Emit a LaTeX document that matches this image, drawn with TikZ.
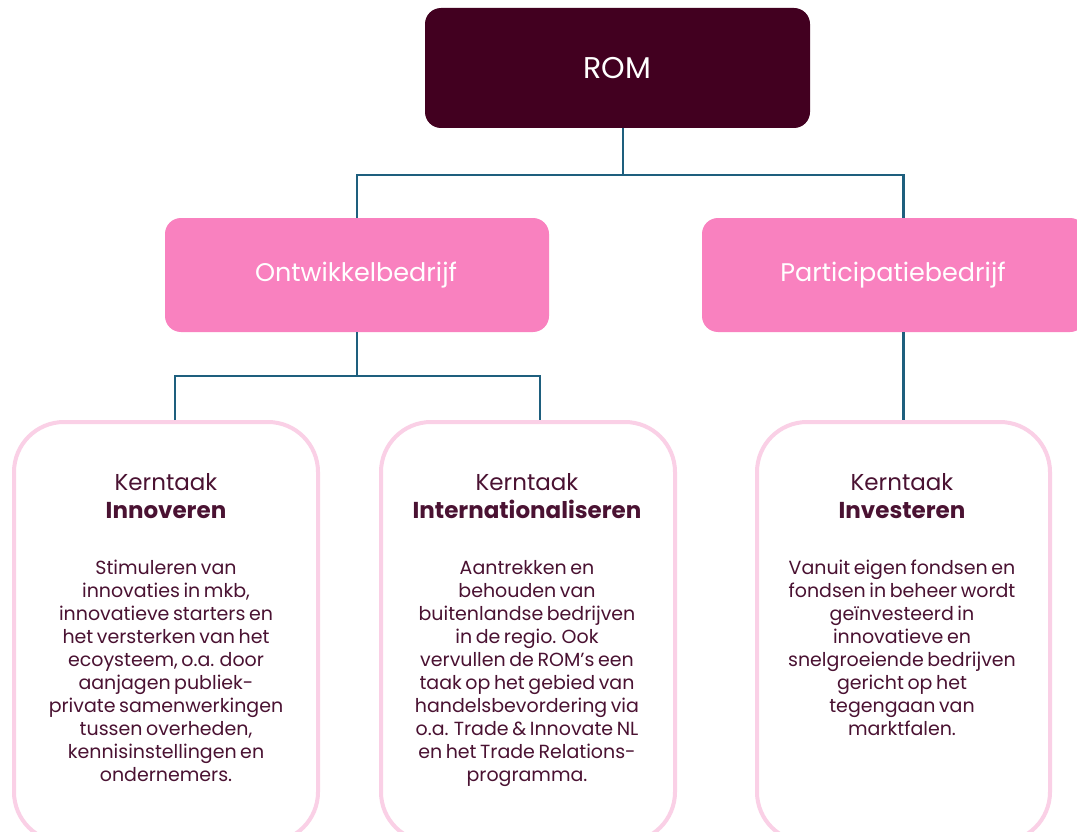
\documentclass[tikz,border=0pt]{standalone}
\usepackage{fontspec}
\setmainfont{Poppins}[WordSpace=0.7]
\definecolor{romfill}{HTML}{420020}
\definecolor{pinkfill}{HTML}{F981BF}
\definecolor{cardline}{HTML}{FAD0E6}
\definecolor{conncol}{HTML}{1E5F7E}
\definecolor{txtcol}{HTML}{4A1232}
\begin{document}
\begin{tikzpicture}[x=1pt,y=-1pt,
  rombox/.style={fill=romfill, rounded corners=16pt, minimum width=385pt, minimum height=120pt, inner sep=0pt},
  subbox/.style={fill=pinkfill, rounded corners=16pt, minimum width=384pt, minimum height=114pt, inner sep=0pt},
  romtext/.style={text=white, font=\fontsize{30}{34}\selectfont, inner sep=0pt},
  subtext/.style={text=white, font=\fontsize{25.5}{30}\selectfont, inner sep=0pt},
  card/.style={draw=cardline, line width=4pt, fill=white, rounded corners=50pt, minimum height=420pt, inner sep=0pt},
  head/.style={text=txtcol, font=\fontsize{23}{28}\selectfont, align=center, anchor=north, inner sep=0pt},
  body/.style={text=txtcol, font=\fontsize{19}{23}\selectfont, align=center, anchor=north, inner sep=0pt},
  conn/.style={draw=conncol, line width=2.5pt}]
\useasboundingbox (0,0) rectangle (1077,832);
\clip (0,0) rectangle (1077,832);
\fill[white] (0,0) rectangle (1077,832);

% boxes
\node[rombox] (rom) at (617.5,68) {};
\node[romtext] (romt) at (617.5,68) {ROM};
\node[subbox] (ont) at (357,275) {};
\node[subtext] (ontt) at (356,275) {Ontwikkelbedrijf};
\node[subbox] (part) at (894,275) {};
\node[subtext] (partt) at (893,275) {Participatiebedrijf};

\node[card, minimum width=304pt] (c1) at (166,632) {};
\node[card, minimum width=294pt] (c2) at (528,632) {};
\node[card, minimum width=293pt] (c3) at (903.5,632) {};

% connectors
\coordinate (j1) at (623,175);
\coordinate (j2) at (357,376);
\draw[conn] (rom.south -| j1) -- (j1);
\draw[conn] (ont.north) |- (j1) -| (part.north -| c3.north);
\draw[conn] (part.south -| c3.north) -- (c3.north);
\draw[conn] (ont.south) -- (j2);
\draw[conn] ([xshift=9pt]c1.north) |- (j2) -| ([xshift=12pt]c2.north);

% card texts
\node[head] (h1) at (166,473) {Kerntaak\\\textbf{Innoveren}};
\node[body] (b1) at (166,560) {Stimuleren van\\innovaties in mkb,\\innovatieve starters en\\het versterken van het\\ecoysteem, o.a. door\\aanjagen publiek-\\private samenwerkingen\\tussen overheden,\\kennisinstellingen en\\ondernemers.};

\node[head] (h2) at (527,473) {Kerntaak\\\textbf{Internationaliseren}};
\node[body] (b2) at (527,560) {Aantrekken en\\behouden van\\buitenlandse bedrijven\\in de regio. Ook\\vervullen de ROM’s een\\taak op het gebied van\\handelsbevordering via\\o.a. Trade \& Innovate NL\\en het Trade Relations-\\programma.};

\node[head] (h3) at (902,473) {Kerntaak\\\textbf{Investeren}};
\node[body] (b3) at (902,560) {Vanuit eigen fondsen en\\fondsen in beheer wordt\\geïnvesteerd in\\innovatieve en\\snelgroeiende bedrijven\\gericht op het\\tegengaan van\\marktfalen.};
\end{tikzpicture}
\end{document}
